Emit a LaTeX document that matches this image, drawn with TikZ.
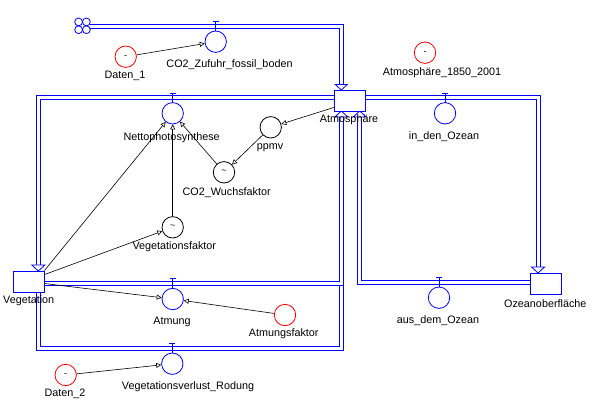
\documentclass[tikz,border=0pt]{standalone}
\usepackage{fontspec}
\setmainfont{Liberation Sans}
\usetikzlibrary{arrows.meta}
\begin{document}
\begin{tikzpicture}[x=1pt,y=-1pt,
  lbl/.style={font=\fontsize{10.8}{12}\selectfont, inner sep=0pt},
  conv/.style={circle, draw=blue, fill=white, line width=0.8pt, minimum size=21.4pt, inner sep=0pt},
  aux/.style={circle, draw=black, fill=white, line width=0.8pt, minimum size=21.4pt, inner sep=0pt, font=\fontsize{9}{10}\selectfont},
  cst/.style={circle, draw=red, fill=white, line width=0.8pt, minimum size=21.4pt, inner sep=0pt, font=\fontsize{9}{10}\selectfont},
  stock/.style={draw=blue, fill=white, line width=0.8pt, minimum width=31pt, minimum height=21pt, inner sep=0pt},
  pipe/.style={blue, line width=0.8pt},
  info/.style={line width=0.6pt, -{Triangle[open,length=5pt,width=5pt]}},
  fhead/.style={draw=blue, fill=white, line width=0.8pt}
]
\useasboundingbox (0,0) rectangle (596,402);

% ---- pipes (flows) ----
% cloud -> Atmosphaere
\draw[pipe] (90,24.3) -- (343.3,24.3) -- (343.3,84.5);
\draw[pipe] (90,28.3) -- (339.3,28.3) -- (339.3,84.5);
% Atmosphaere -> Vegetation
\draw[pipe] (334,95.7) -- (36,95.7) -- (36,265);
\draw[pipe] (334,99.7) -- (40.7,99.7) -- (40.7,265);
% Atmosphaere -> Ozeanoberflaeche
\draw[pipe] (365.3,95.7) -- (540,95.7) -- (540,267);
\draw[pipe] (365.3,99.7) -- (536,99.7) -- (536,267);
% Ozeanoberflaeche -> Atmosphaere
\draw[pipe] (530,280) -- (361.7,280) -- (361.7,117);
\draw[pipe] (530,284.3) -- (357.7,284.3) -- (357.7,117);
% Vegetation -> Atmosphaere (Atmung)
\draw[pipe] (44,281) -- (339.3,281) -- (339.3,117);
\draw[pipe] (44,285) -- (343.3,285) -- (343.3,117);
% Vegetation -> Atmosphaere (Rodung)
\draw[pipe] (40.7,292) -- (40.7,346) -- (339.3,346) -- (339.3,285);
\draw[pipe] (36,292) -- (36,350) -- (343.3,350) -- (343.3,285);

% flow arrow heads
\draw[fhead] (335.3,84.5) -- (347.3,84.5) -- (341.3,90) -- cycle;
\draw[fhead] (31.8,265) -- (44.8,265) -- (38.3,271) -- cycle;
\draw[fhead] (531.5,267) -- (544.5,267) -- (538,273) -- cycle;
\draw[fhead] (353.2,117) -- (366.2,117) -- (359.7,111) -- cycle;
\draw[fhead] (334.8,117) -- (347.8,117) -- (341.3,111) -- cycle;

% cloud (source)
\foreach \dx/\dy in {-3.9/-3.9, 3.9/-3.9, -3.9/3.9, 3.9/3.9}
  \draw[blue, line width=0.8pt] (82.5+\dx,25.8+\dy) circle (3.9);

% valve stems
\foreach \x/\ya/\yb in {215.7/21/31, 172.7/93/102.6, 445/93.3/102.6, 439/277/287, 172.7/278/288.3, 172.3/343/353}{
  \draw[pipe] (\x,\ya) -- (\x,\yb);
  \draw[pipe] (\x-3,\ya) -- (\x+3,\ya);
}

% ---- stocks ----
\node[stock] (atm) at (349.7,100.5) {};
\node[stock] (veg) at (28.5,281.5) {};
\node[stock] (ozean) at (545.8,283.5) {};

% ---- converters / rates ----
\node[conv] (zufuhr) at (215.7,41.7) {};
\node[conv] (netto) at (172.7,113.3) {};
\node[conv] (inoz) at (445,113.3) {};
\node[conv] (ausoz) at (439,297.7) {};
\node[conv] (atmung) at (172.7,299) {};
\node[conv] (rodung) at (172.3,363.7) {};

\node[aux] (ppmv) at (270.7,127.3) {};
\node[aux] (wuchs) at (224,172.3) {\raisebox{1.5pt}{\textasciitilde}};
\node[aux] (vfak) at (172.7,227.3) {\raisebox{1.5pt}{\textasciitilde}};

\node[cst] (daten1) at (125.7,56.7) {-};
\node[cst] (atm1850) at (425,52.7) {-};
\node[cst] (afak) at (285,315) {};
\node[cst] (daten2) at (65.7,375) {-};

% ---- information links ----
\draw[info] (daten1) -- (zufuhr);
\draw[info] ([yshift=-7pt]atm.west) -- (ppmv);
\draw[info] (ppmv) -- (wuchs);
\draw[info] (wuchs) -- (netto);
\draw[info] (vfak) -- (netto);
\draw[info] (veg.north east) -- (netto);
\draw[info] ([yshift=-4pt]veg.north east) -- (vfak);
\draw[info] ([yshift=-2pt]veg.east) -- (atmung);
\draw[info] (afak) -- (atmung);
\draw[info] (daten2) -- (rodung);

% ---- labels ----
\node[lbl] (l1) at (125,76) {Daten\_1};
\node[lbl] (l2) at (229.5,65) {CO2\_Zufuhr\_fossil\_boden};
\node[lbl] (l3) at (442,72.3) {Atmosphäre\_1850\_2001};
\node[lbl] (l4) at (349,120) {Atmosphäre};
\node[lbl] (l5) at (171.7,137.3) {Nettophotosynthese};
\node[lbl] (l6) at (270,147.3) {ppmv};
\node[lbl] (l7) at (226.7,192.3) {CO2\_Wuchsfaktor};
\node[lbl] (l8) at (174.3,246.7) {Vegetationsfaktor};
\node[lbl] (l9) at (444,137) {in\_den\_Ozean};
\node[lbl] (l10) at (28.7,301) {Vegetation};
\node[lbl] (l11) at (172,322) {Atmung};
\node[lbl] (l12) at (283.7,334) {Atmungsfaktor};
\node[lbl] (l13) at (545.3,303.3) {Ozeanoberfläche};
\node[lbl] (l14) at (438,321) {aus\_dem\_Ozean};
\node[lbl] (l15) at (188,387) {Vegetationsverlust\_Rodung};
\node[lbl] (l16) at (65,394) {Daten\_2};
\end{tikzpicture}
\end{document}
